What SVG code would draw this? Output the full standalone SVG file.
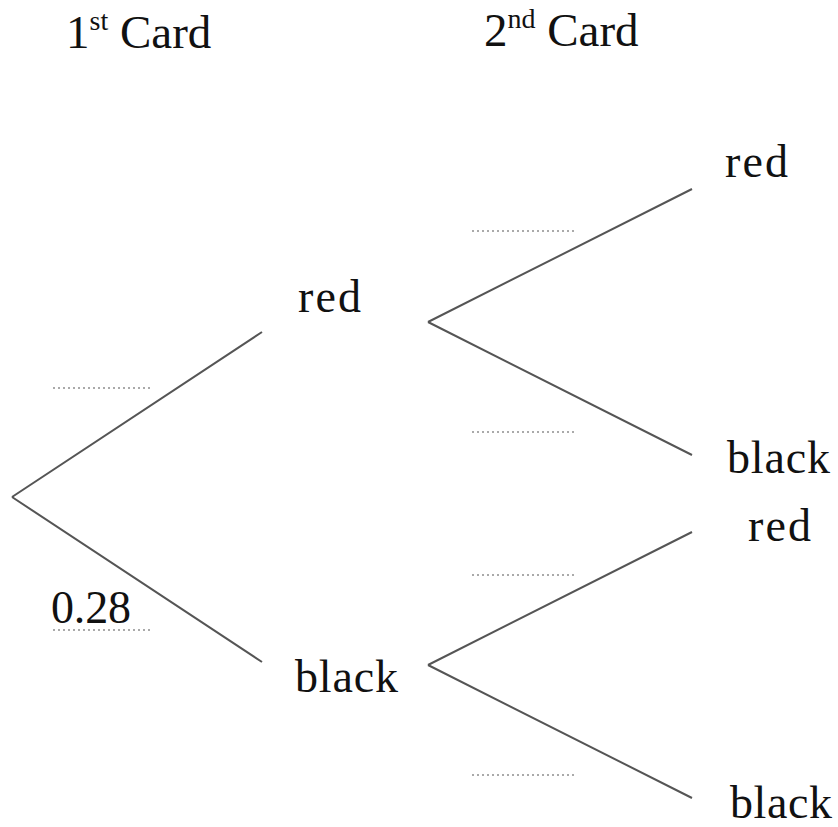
<svg xmlns="http://www.w3.org/2000/svg" width="838" height="827" viewBox="0 0 838 827">
<style>
text{font-family:"Liberation Serif","DejaVu Serif",serif;font-size:46px;fill:#111}
.hd{font-size:47px}
.sup{font-size:28px}
.br{stroke:#555;stroke-width:2;fill:none}
.dot{stroke:#aaa;stroke-width:2;stroke-dasharray:2 3;fill:none}
</style>
<rect width="838" height="827" fill="#fff"/>
<g id="headers">
<text class="hd" x="66" y="48">1<tspan class="sup" dy="-18">st</tspan><tspan dy="18"> Card</tspan></text>
<text class="hd" x="484" y="46">2<tspan class="sup" dy="-18">nd</tspan><tspan dy="18"> Card</tspan></text>
</g>
<g id="connectors">
<path class="br" d="M12,497 L262,332 M12,497 L262,662"/>
<path class="br" d="M428,322 L692,189 M428,322 L692,455"/>
<path class="br" d="M428,665 L692,532 M428,665 L692,798"/>
<path class="dot" d="M53,388 H150 M53,630 H150 M472,231 H574 M472,432 H574 M472,575 H574 M472,775 H574"/>
</g>
<g id="prob1"><text x="51" y="623" textLength="80">0.28</text></g>
<g id="n-red1"><text x="298" y="312" textLength="63">red</text></g>
<g id="n-black1"><text x="295" y="692" textLength="103">black</text></g>
<g id="n-rr"><text x="725" y="177" textLength="63">red</text></g>
<g id="n-rb"><text x="727" y="473" textLength="103">black</text></g>
<g id="n-br"><text x="748" y="541" textLength="63">red</text></g>
<g id="n-bb"><text x="730" y="818" textLength="102">black</text></g>
</svg>
